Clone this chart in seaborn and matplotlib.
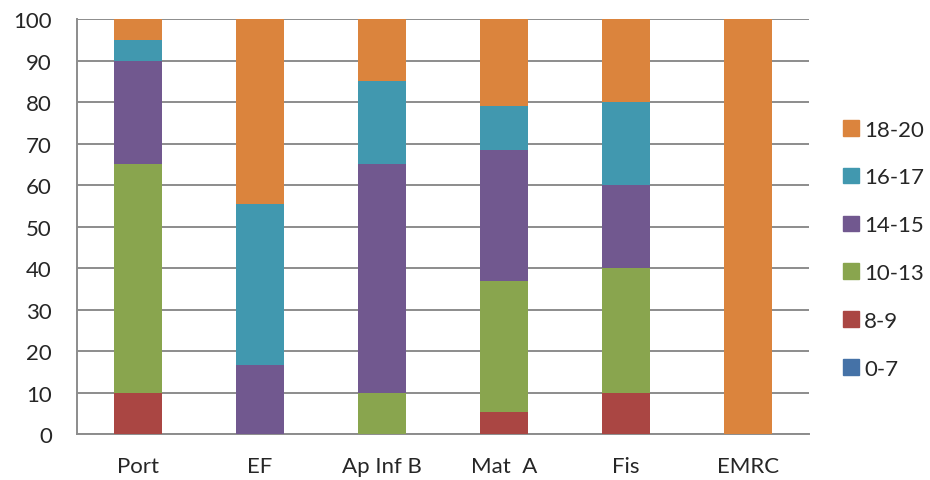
import pandas as pd
import seaborn as sns
import matplotlib.pyplot as plt

# percentages of students per grade band, per subject
subjects = ['Port', 'EF', 'Ap Inf B', 'Mat  A', 'Fis', 'EMRC']
bands = ['0-7', '8-9', '10-13', '14-15', '16-17', '18-20']
pct = {
    '0-7':   [0, 0, 0, 0, 0, 0],
    '8-9':   [10, 0, 0, 5.26, 10, 0],
    '10-13': [55, 0, 10, 31.58, 30, 0],
    '14-15': [25, 16.67, 55, 31.58, 20, 0],
    '16-17': [5, 38.89, 20, 10.53, 20, 0],
    '18-20': [5, 44.44, 15, 21.05, 20, 100],
}
colors = ['#4572A7', '#AA4643', '#89A54E', '#71588F', '#4198AF', '#DB843D']

df = pd.DataFrame(pct, index=subjects)
cum = df[bands].cumsum(axis=1)

sns.set_style('white')
plt.rcParams['font.family'] = ['Lato', 'DejaVu Sans']

fig = plt.figure(figsize=(9.3, 4.81), dpi=100)
ax = fig.add_axes([0.0828, 0.0956, 0.787, 0.8625])

# draw cumulative bars from top band down so lower bands sit in front
handles = []
for band, col in reversed(list(zip(bands, colors))):
    d = pd.DataFrame({'subject': subjects, 'top': cum[band].values})
    sns.barplot(data=d, x='subject', y='top', color=col, width=0.39,
                saturation=1, linewidth=0, ax=ax, zorder=3)
    handles.append(plt.Rectangle((0, 0), 1, 1, color=col, label=band))

ax.set_ylim(0, 100)
ax.set_xlim(-0.5, 5.5)
ax.set_yticks(range(0, 101, 10))
ax.yaxis.grid(True, color='#8c8c8c', linewidth=1.4, zorder=0)
ax.set_axisbelow(True)
ax.set_xlabel('')
ax.set_ylabel('')
for s in ['top', 'right']:
    ax.spines[s].set_visible(False)
for s in ['left', 'bottom']:
    ax.spines[s].set_color('#8c8c8c')
    ax.spines[s].set_linewidth(1.4)
ax.tick_params(axis='y', length=6, color='#8c8c8c', width=1.4, pad=12, labelsize=16)
ax.tick_params(axis='x', which='major', length=0, pad=16, labelsize=16)
ax.set_xticks([i - 0.5 for i in range(7)], minor=True)
ax.tick_params(axis='x', which='minor', length=6, color='#8c8c8c', width=1.4)

fig.legend(handles=handles, loc='center left', bbox_to_anchor=(0.897, 0.48),
           frameon=False, fontsize=16, handlelength=0.7, handleheight=0.7,
           handletextpad=0.25, labelspacing=1.25, borderaxespad=0)

fig.savefig('out.png', dpi=100)
